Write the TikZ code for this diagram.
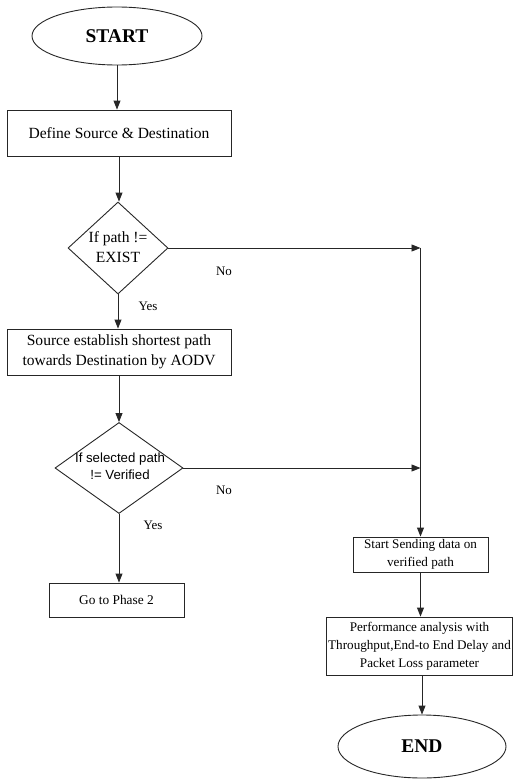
\documentclass[tikz,border=0pt]{standalone}
\usepackage{fontspec}
\setmainfont{Liberation Serif}
\newfontfamily\sansf{Liberation Sans}
\usetikzlibrary{shapes.geometric,arrows.meta}
\begin{document}
\begin{tikzpicture}[x=1bp,y=-1bp,
  line/.style={draw=black!85,line width=0.9bp},
  arr/.style={line,-{Triangle[length=9bp,width=7bp]}},
  term/.style={ellipse,line,inner sep=0pt,font=\fontsize{19.5}{22}\selectfont\bfseries},
  box/.style={rectangle,line,inner sep=0pt,align=center},
  bigtxt/.style={font=\fontsize{15.6}{20}\selectfont},
  smalltxt/.style={font=\fontsize{13.2}{18.3}\selectfont},
  dia/.style={diamond,line,inner sep=0pt},
  lab/.style={font=\fontsize{13}{15}\selectfont,inner sep=0pt}]
\useasboundingbox (0,0) rectangle (513,779);
% nodes
\node[term,minimum width=170bp,minimum height=58bp] (start) at (117,36) {START};
\node[box,bigtxt,minimum width=224bp,minimum height=46bp] (b1) at (119,133) {Define Source \& Destination};
\node[dia,minimum width=100bp,minimum height=92bp] (d1) at (118,248) {};
\node[bigtxt,align=center,inner sep=0pt] (d1t) at (118,247) {If path !=\\EXIST};
\node[box,bigtxt,minimum width=224bp,minimum height=46bp] (b2) at (119,352) {Source establish shortest path\\towards Destination by AODV};
\node[dia,minimum width=128bp,minimum height=91bp] (d2) at (119,468) {};
\node[font=\sansf\fontsize{13.3}{17}\selectfont,align=center,inner sep=0pt] (d2t) at (120,466) {If selected path\\!= Verified};
\node[box,font=\fontsize{13.4}{16}\selectfont,minimum width=135bp,minimum height=34bp] (b3) at (116.5,600) {Go to Phase 2};
\node[box,smalltxt,minimum width=135bp,minimum height=35bp] (b4) at (420.5,554.5) {Start Sending data on\\verified path};
\node[box,smalltxt,minimum width=186bp,minimum height=58bp] (b5) at (419.5,646) {Performance analysis with\\Throughput,End-to End Delay and\\Packet Loss parameter};
\node[term,minimum width=168bp,minimum height=63bp] (end) at (422,746.5) {END};
% labels
\node[lab] (no1) at (224,271) {No};
\node[lab] (yes1) at (148,306) {Yes};
\node[lab] (no2) at (224,490) {No};
\node[lab] (yes2) at (153,525) {Yes};
% junctions
\coordinate (j1) at (d1.east -| b4.north);
\coordinate (j2) at (d2.east -| b4.north);
% connectors
\draw[arr] (start.south) -- (start.south |- b1.north);
\draw[arr] (b1.south) -- (b1.south |- d1.north);
\draw[arr] (d1.south) -- (d1.south |- b2.north);
\draw[arr] (b2.south) -- (b2.south |- d2.north);
\draw[arr] (d2.south) -- (d2.south |- b3.north);
\draw[arr] (d1.east) -- (j1);
\draw[arr] (d2.east) -- (j2);
\draw[arr] (j1) -- (b4.north);
\draw[arr] (b4.south) -- (b4.south |- b5.north);
\draw[arr] (b5.south -| end.north) -- (end.north);
\end{tikzpicture}
\end{document}
